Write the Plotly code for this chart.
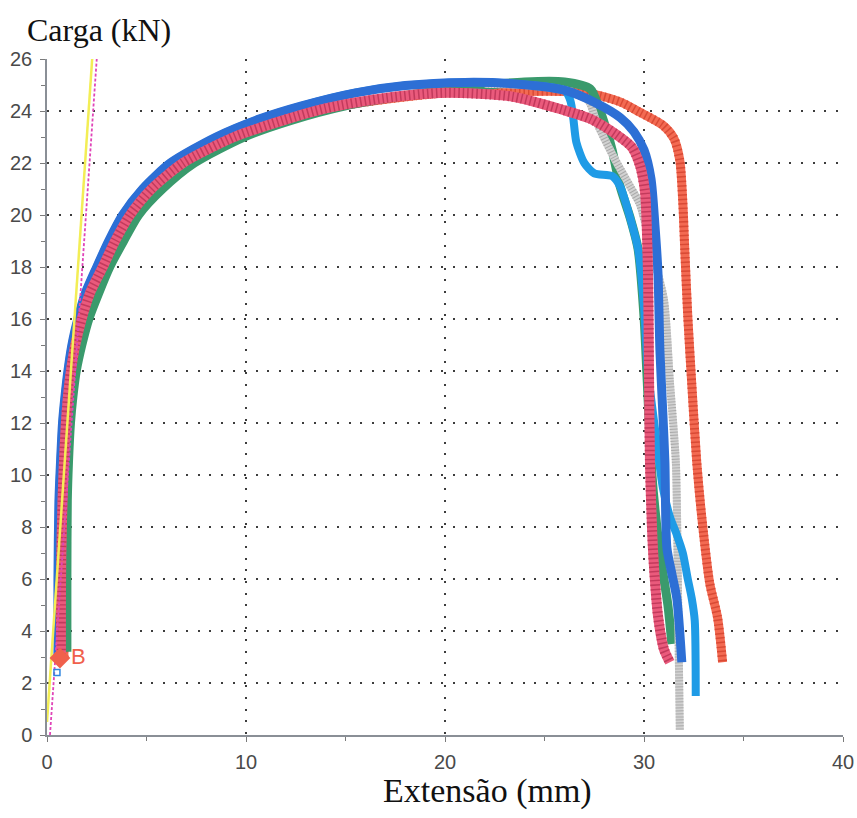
import plotly.graph_objects as go

# Load-extension curves from tensile tests (x: extension in mm, y: load in kN)
green_x = [1.0, 1.0, 1.02, 1.08, 1.18, 1.3, 1.47, 1.75, 2.1, 2.6, 3.15, 3.85, 4.6, 5.8, 7.4, 9.9, 12.3, 15.0, 18.0, 21.0, 24.0, 26.0, 27.3, 27.7, 28.1, 28.4, 28.8, 29.3, 29.7, 30.0, 30.2, 30.4, 30.8, 31.2, 31.4]
green_y = [3.2, 6.0, 9.0, 10.5, 12.0, 13.0, 14.0, 15.0, 16.0, 17.0, 18.0, 19.0, 20.0, 21.0, 22.0, 23.0, 23.65, 24.2, 24.6, 24.9, 25.12, 25.12, 24.85, 24.2, 23.3, 22.5, 21.1, 19.9, 18.7, 16.1, 13.0, 10.0, 7.0, 5.0, 3.5]

orange_x = [0.85, 0.85, 0.88, 0.95, 1.05, 1.18, 1.38, 1.6, 1.92, 2.38, 3.0, 3.6, 4.4, 5.5, 7.1, 9.6, 12.1, 14.5, 17.5, 20.5, 23.5, 26.0, 27.4, 28.8, 29.8, 30.95, 31.5, 31.8, 31.95, 32.05, 32.2, 32.4, 32.65, 32.9, 33.3, 33.7, 33.95]
orange_y = [3.0, 6.0, 9.0, 10.5, 12.0, 13.0, 14.0, 15.0, 16.0, 17.0, 18.0, 19.0, 20.0, 21.0, 22.0, 23.0, 23.65, 24.15, 24.5, 24.72, 24.75, 24.75, 24.65, 24.35, 23.95, 23.45, 22.95, 22.1, 20.5, 18.65, 16.1, 13.5, 10.5, 8.4, 5.85, 4.5, 2.8]

gray_x = [22.0, 24.0, 26.0, 27.2, 27.6, 28.5, 29.3, 29.8, 30.4, 31.0, 31.3, 31.6, 31.7, 31.75, 31.8]
gray_y = [25.05, 25.0, 24.8, 24.4, 23.6, 22.2, 21.1, 20.4, 18.6, 16.75, 13.6, 10.5, 6.0, 3.0, 0.2]

lblue_x = [0.55, 0.55, 0.6, 0.68, 0.78, 0.9, 1.05, 1.25, 1.55, 1.93, 2.5, 3.1, 3.8, 4.8, 6.2, 8.5, 10.7, 12.8, 15.5, 18.0, 21.0, 23.4, 26.0, 26.3, 26.45, 26.6, 27.0, 27.5, 28.4, 28.8, 29.3, 29.7, 30.0, 30.2, 30.6, 30.95, 31.3, 31.65, 31.95, 32.2, 32.4, 32.55, 32.6]
lblue_y = [3.0, 6.0, 9.0, 10.5, 12.0, 13.0, 14.0, 15.0, 16.0, 17.0, 18.0, 19.0, 20.0, 21.0, 22.0, 23.0, 23.7, 24.2, 24.7, 24.98, 25.1, 25.05, 24.8, 24.4, 23.7, 22.8, 22.0, 21.6, 21.5, 21.1, 19.9, 18.7, 16.5, 14.0, 11.5, 9.5, 8.4, 7.7, 7.0, 6.0, 5.25, 4.4, 1.5]

blue_x = [0.55, 0.55, 0.6, 0.68, 0.78, 0.9, 1.05, 1.25, 1.55, 1.93, 2.5, 3.1, 3.8, 4.8, 6.2, 8.5, 10.7, 12.8, 15.5, 18.0, 21.0, 23.4, 26.0, 27.6, 28.8, 29.5, 30.0, 30.35, 30.55, 30.7, 30.8, 30.95, 31.05, 31.15, 31.4, 31.65, 31.9]
blue_y = [3.0, 6.0, 9.0, 10.5, 12.0, 13.0, 14.0, 15.0, 16.0, 17.0, 18.0, 19.0, 20.0, 21.0, 22.0, 23.0, 23.7, 24.2, 24.7, 24.98, 25.1, 25.05, 24.8, 24.3, 23.75, 23.2, 22.5, 21.4, 19.6, 17.8, 14.8, 12.3, 10.5, 7.2, 6.2, 5.25, 2.8]

pink_x = [0.7, 0.7, 0.72, 0.78, 0.85, 0.95, 1.05, 1.2, 1.42, 1.74, 2.16, 2.8, 3.42, 4.17, 5.25, 6.83, 9.4, 11.9, 14.0, 17.0, 20.0, 23.4, 25.9, 27.3, 28.6, 29.4, 29.8, 30.05, 30.2, 30.25, 30.3, 30.4, 30.5, 30.7, 31.0, 31.3]
pink_y = [2.9, 5.0, 7.0, 9.0, 10.5, 12.0, 13.0, 14.0, 15.0, 16.0, 17.0, 18.0, 19.0, 20.0, 21.0, 22.0, 23.0, 23.65, 24.1, 24.5, 24.7, 24.55, 24.05, 23.7, 23.1, 22.6, 21.9, 20.9, 17.8, 14.0, 10.5, 8.0, 6.5, 4.6, 3.3, 2.8]

# Reference (elastic) lines near the origin
yellow_x = [0.0, 2.27]
yellow_y = [0.5, 26.0]
magenta_x = [0.15, 2.5]
magenta_y = [0.0, 26.0]

# Point B marker
b_x = [0.65]
b_y = [2.96]
sq_x = [0.5]
sq_y = [2.4]

x_ticks = [0, 10, 20, 30, 40]
y_ticks = list(range(0, 27, 2))

fig = go.Figure()


def band(x, y, color, width, stripe=None, dash=None):
    fig.add_trace(go.Scatter(x=x, y=y, mode="lines",
                             line=dict(color=color, width=width,
                                       shape="spline", smoothing=0.7),
                             hoverinfo="skip", showlegend=False))
    if stripe:
        fig.add_trace(go.Scatter(x=x, y=y, mode="lines",
                                 line=dict(color=stripe, width=width, dash=dash,
                                           shape="spline", smoothing=0.7),
                                 hoverinfo="skip", showlegend=False))


band(orange_x, orange_y, "#f36a52", 9, "#d94a35", "1.5px,3px")
band(green_x, green_y, "#3a9a6c", 9)
band(gray_x, gray_y, "#d2d2d2", 8, "#a9a9a9", "1px,2px")
band(lblue_x, lblue_y, "#1f9be6", 8)
band(blue_x, blue_y, "#2d6fd5", 9)
band(pink_x, pink_y, "#ea5a7c", 10, "#c23a5c", "1.5px,3px")

fig.add_trace(go.Scatter(x=yellow_x, y=yellow_y, mode="lines",
                         line=dict(color="#f3ee55", width=2.5),
                         hoverinfo="skip", showlegend=False))
fig.add_trace(go.Scatter(x=magenta_x, y=magenta_y, mode="lines",
                         line=dict(color="#e045b8", width=1.8, dash="3px,2px"),
                         hoverinfo="skip", showlegend=False))

fig.add_trace(go.Scatter(x=sq_x, y=sq_y, mode="markers",
                         marker=dict(symbol="square-open", size=6,
                                     color="#2f86e0", line=dict(width=1.5)),
                         hoverinfo="skip", showlegend=False))
fig.add_trace(go.Scatter(x=b_x, y=b_y, mode="markers+text", text=["B"],
                         textposition="middle right",
                         textfont=dict(color="#f0604c", size=22,
                                       family="Liberation Sans"),
                         marker=dict(symbol="diamond", size=16, color="#f0604c"),
                         hoverinfo="skip", showlegend=False))

grid_style = dict(showgrid=True, gridcolor="#3c3c3c", gridwidth=2,
                  griddash="2px,9.6px")

fig.update_xaxes(range=[0, 40], tickvals=x_ticks, ticks="outside", ticklen=5,
                 tickcolor="#7a7a7a", showline=True, linecolor="#8a8f96",
                 linewidth=1.5, zeroline=False, automargin=False,
                 ticklabelstandoff=3,
                 minor=dict(dtick=5, ticks="outside", ticklen=4,
                            tickcolor="#7a7a7a", showgrid=False),
                 tickfont=dict(family="Liberation Sans", size=20, color="#4a4a4a"),
                 **grid_style)
fig.update_yaxes(range=[0, 26], tickvals=y_ticks, ticks="outside", ticklen=5,
                 tickcolor="#7a7a7a", showline=True, linecolor="#8a8f96",
                 linewidth=1.5, zeroline=False, automargin=False,
                 ticklabelstandoff=4,
                 minor=dict(dtick=1, ticks="outside", ticklen=4,
                            tickcolor="#7a7a7a", showgrid=False),
                 tickfont=dict(family="Liberation Sans", size=20, color="#4a4a4a"),
                 **grid_style)

fig.update_layout(
    width=857, height=818,
    margin=dict(l=47, r=14, t=59, b=83),
    paper_bgcolor="white", plot_bgcolor="white",
    annotations=[
        dict(text="Carga (kN)", xref="paper", yref="paper", x=-0.028, y=1.0,
             yshift=29, xanchor="left", yanchor="middle", showarrow=False,
             font=dict(family="Liberation Serif", size=32, color="#111111")),
        dict(text="Extensão (mm)", xref="paper", yref="paper", x=0.553, y=0,
             yshift=-56, xanchor="center", yanchor="middle", showarrow=False,
             font=dict(family="Liberation Serif", size=34, color="#111111")),
    ],
)

fig.write_html("out.html")
